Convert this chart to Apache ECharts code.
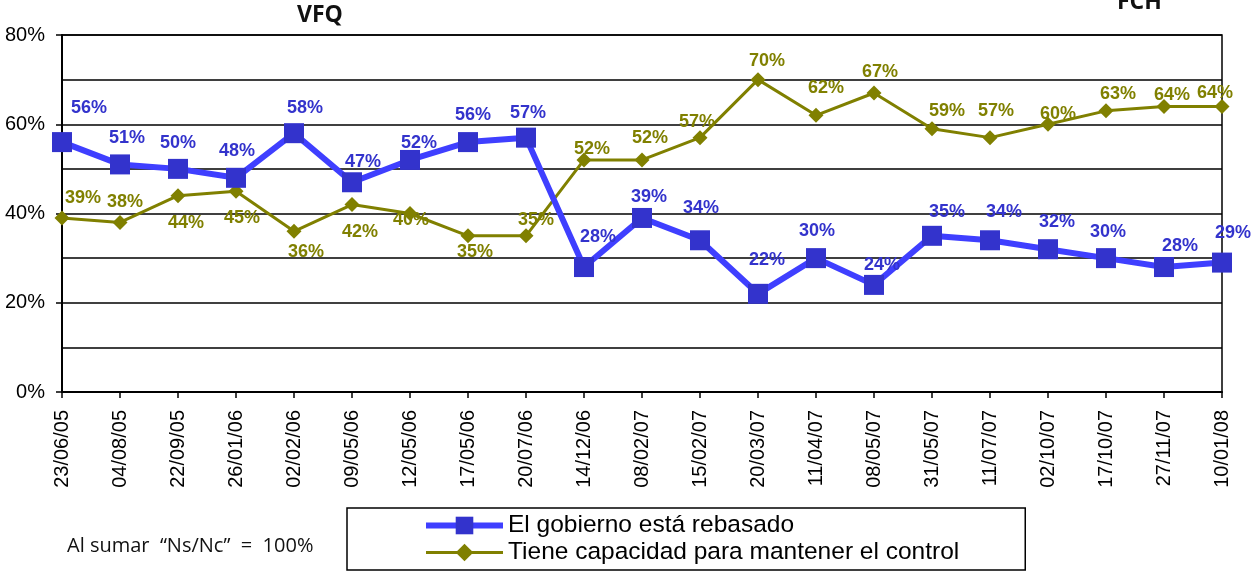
<!DOCTYPE html>
<html>
<head>
<meta charset="utf-8">
<script src="https://cdn.jsdelivr.net/npm/echarts@6/dist/echarts.min.js"></script>
<style>
  html, body { margin: 0; padding: 0; background: #fff; }
  #chart { width: 1255px; height: 572px; }
</style>
</head>
<body>
<div id="chart"></div>
<script>
// fechas de levantamiento
const fechas = ['23/06/05', '04/08/05', '22/09/05', '26/01/06', '02/02/06', '09/05/06', '12/05/06',
  '17/05/06', '20/07/06', '14/12/06', '08/02/07', '15/02/07', '20/03/07', '11/04/07', '08/05/07',
  '31/05/07', '11/07/07', '02/10/07', '17/10/07', '27/11/07', '10/01/08']

const rebasado = [56, 51, 50, 48, 58, 47, 52, 56, 57, 28, 39, 34, 22, 30, 24, 35, 34, 32, 30, 28, 29]
const capacidad = [39, 38, 44, 45, 36, 42, 40, 35, 35, 52, 52, 57, 70, 62, 67, 59, 57, 60, 63, 64, 64]

const yTicks = [0, 20, 40, 60, 80]

// desplazamiento de cada etiqueta respecto a su punto [dx, dy hacia arriba]
const etqAzul = [[27, 34], [7, 26], [0, 26], [1, 27], [11, 25], [11, 20], [9, 17], [5, 27], [2, 25], [14, 30],
  [7, 21], [1, 32], [9, 34], [1, 27], [8, 20], [15, 24], [14, 28], [9, 27], [2, 26], [16, 21], [11, 30]]
const etqVerde = [[21, 20], [5, 20], [8, -27], [6, -27], [12, -21], [8, -27], [1, -7], [7, -16], [10, 16], [8, 11],
  [8, 22], [-3, 16], [9, 19], [10, 27], [6, 21], [15, 18], [6, 27], [10, 10], [12, 17], [8, 11], [-7, 13]]

const blue = '#3333cc'
const olive = '#808000'

const labelBase = {
  show: true,
  position: 'inside',
  formatter: '{c}%',
  fontFamily: 'Liberation Sans',
  fontWeight: 'bold',
  fontSize: 18
}

const conEtiqueta = (vals, desp) => vals.map((v, i) => ({
  value: v,
  label: { offset: [desp[i][0], -desp[i][1]] }
}))

const chart = echarts.init(document.getElementById('chart'))

chart.setOption({
  animation: false,
  grid: {
    left: 62,
    right: 33,
    top: 35,
    bottom: 180,
    show: true,
    borderColor: '#000',
    borderWidth: 1.5
  },
  legend: {
    orient: 'vertical',
    left: 347,
    top: 508,
    padding: [4, 66, 4, 76],
    itemGap: 0,
    itemWidth: 77,
    itemHeight: 22,
    borderColor: '#000',
    borderWidth: 1.5,
    textStyle: { fontFamily: 'Liberation Sans', fontSize: 24.5, lineHeight: 27, color: '#000' },
    data: [
      { name: 'El gobierno está rebasado', lineStyle: { width: 6, color: '#3f3fff' } },
      { name: 'Tiene capacidad para mantener el control', lineStyle: { width: 3, color: olive } }
    ]
  },
  graphic: [
    { type: 'text', left: 297, top: 4, style: { text: 'VFQ', font: 'bold 23px "Open Sans"', fill: '#111' } },
    { type: 'text', left: 1117, top: -9, style: { text: 'FCH', font: 'bold 23px "Open Sans"', fill: '#111' } },
    { type: 'text', left: 67, top: 536, style: { text: 'Al sumar  “Ns/Nc”  =  100%', font: '20px "Open Sans"', fill: '#111' } }
  ],
  xAxis: {
    type: 'category',
    data: fechas,
    boundaryGap: false,
    axisLine: { lineStyle: { color: '#000', width: 2 } },
    axisTick: { show: true, length: 6, alignWithLabel: true, lineStyle: { color: '#000', width: 1.5 } },
    axisLabel: {
      rotate: 90,
      interval: 0,
      margin: 18,
      fontFamily: 'Liberation Sans',
      fontSize: 20,
      color: '#000'
    },
    splitLine: { show: false }
  },
  yAxis: {
    type: 'value',
    min: yTicks[0],
    max: yTicks[yTicks.length - 1],
    interval: 20,
    axisLine: { show: true, lineStyle: { color: '#000', width: 2 } },
    axisTick: { show: true, length: 6, lineStyle: { color: '#000', width: 1.5 } },
    axisLabel: {
      formatter: '{value}%',
      margin: 17,
      fontFamily: 'Liberation Sans',
      fontSize: 20,
      color: '#000'
    },
    splitLine: { lineStyle: { color: '#000', width: 1.5 } },
    minorTick: { show: false, splitNumber: 2 },
    minorSplitLine: { show: true, lineStyle: { color: '#000', width: 1.5 } }
  },
  series: [
    {
      name: 'El gobierno está rebasado',
      type: 'line',
      data: conEtiqueta(rebasado, etqAzul),
      symbol: 'rect',
      symbolSize: 20,
      z: 3,
      lineStyle: { color: '#3f3fff', width: 6 },
      itemStyle: { color: blue },
      label: Object.assign({}, labelBase, { color: blue })
    },
    {
      name: 'Tiene capacidad para mantener el control',
      type: 'line',
      data: conEtiqueta(capacidad, etqVerde),
      symbol: 'diamond',
      symbolSize: 15,
      z: 2,
      lineStyle: { color: olive, width: 3 },
      itemStyle: { color: olive },
      label: Object.assign({}, labelBase, { color: olive })
    }
  ]
})
</script>
</body>
</html>
